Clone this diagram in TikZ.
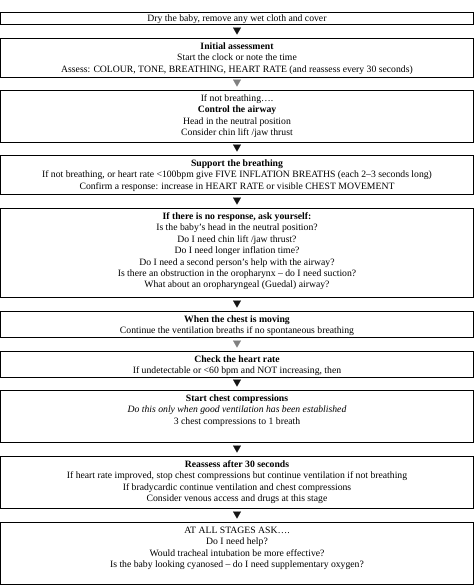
\documentclass[tikz,border=0pt]{standalone}
\usepackage{fontspec}
\setmainfont{Liberation Serif}
\usetikzlibrary{arrows.meta,calc}
\definecolor{arrowgray}{RGB}{128,128,128}
\definecolor{arrowdark}{RGB}{20,20,20}
\tikzset{
  stage/.style={draw=black, line width=0.9pt, inner sep=0pt, outer sep=0pt, anchor=north west},
  flow/.style={-{Triangle[width=8pt,length=7pt]}, draw=arrowdark, fill=arrowdark, line width=0.1pt, shorten <=3.5pt, shorten >=3.5pt},
  flowgray/.style={flow, draw=arrowgray, fill=arrowgray},
}
\newcommand\stagetext[3][11.5pt]{\parbox[c][#2][t]{473pt}{\centering\fontsize{9.7}{11.4}\selectfont\rule{0pt}{#1}#3}}
\begin{document}
\begin{tikzpicture}[x=1pt,y=-1pt]
\useasboundingbox (0,0) rectangle (475,587);
\node[stage] (s1) at (0.5,12) {\stagetext[9.5pt]{12pt}{Dry the baby, remove any wet cloth and cover}};
\node[stage] (s2) at (0.5,38) {\stagetext{39pt}{\textbf{Initial assessment}\\
Start the clock or note the time\\
Assess: COLOUR, TONE, BREATHING, HEART RATE (and reassess every 30 seconds)}};
\node[stage] (s3) at (0.5,90) {\stagetext{52pt}{If not breathing….\\
\textbf{Control the airway}\\
Head in the neutral position\\
Consider chin lift /jaw thrust}};
\node[stage] (s4) at (0.5,155) {\stagetext{39pt}{\textbf{Support the breathing}\\
If not breathing, or heart rate <100bpm give FIVE INFLATION BREATHS (each 2–3 seconds long)\\
Confirm a response: increase in HEART RATE or visible CHEST MOVEMENT}};
\node[stage] (s5) at (0.5,208) {\stagetext{89pt}{\textbf{If there is no response, ask yourself:}\\
Is the baby’s head in the neutral position?\\
Do I need chin lift /jaw thrust?\\
Do I need longer inflation time?\\
Do I need a second person’s help with the airway?\\
Is there an obstruction in the oropharynx – do I need suction?\\
What about an oropharyngeal (Guedal) airway?}};
\node[stage] (s6) at (0.5,311) {\stagetext{26pt}{\textbf{When the chest is moving}\\
Continue the ventilation breaths if no spontaneous breathing}};
\node[stage] (s7) at (0.5,351) {\stagetext{26pt}{\textbf{Check the heart rate}\\
If undetectable or <60 bpm and NOT increasing, then}};
\node[stage] (s8) at (0.5,390) {\stagetext{52pt}{\textbf{Start chest compressions}\\
\textit{Do this only when good ventilation has been established}\\
3 chest compressions to 1 breath}};
\node[stage] (s9) at (0.5,456) {\stagetext{52pt}{\textbf{Reassess after 30 seconds}\\
If heart rate improved, stop chest compressions but continue ventilation if not breathing\\
If bradycardic continue ventilation and chest compressions\\
Consider venous access and drugs at this stage}};
\node[stage] (s10) at (0.5,522) {\stagetext{62pt}{AT ALL STAGES ASK….\\
Do I need help?\\
Would tracheal intubation be more effective?\\
Is the baby looking cyanosed – do I need supplementary oxygen?}};
\draw[flow] (s1.south -| s2.north) -- (s2.north);
\draw[flowgray] (s2.south) -- (s3.north);
\draw[flow] (s3.south) -- (s4.north);
\draw[flow] (s4.south) -- (s5.north);
\draw[flow] (s5.south) -- (s6.north);
\draw[flowgray] (s6.south) -- (s7.north);
\draw[flow] (s7.south) -- (s8.north);
\draw[flow] (s8.south) -- (s9.north);
\draw[flow] (s9.south) -- (s10.north);
\end{tikzpicture}
\end{document}
